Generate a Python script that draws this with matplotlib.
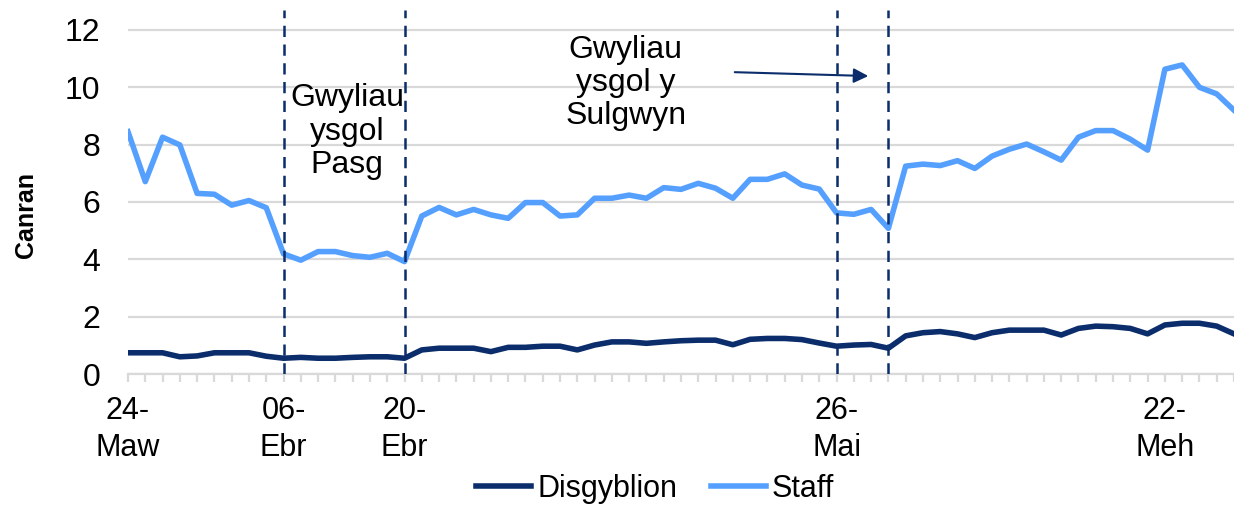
import matplotlib
matplotlib.use("Agg")
import matplotlib.pyplot as plt

plt.rcParams['font.family'] = ['Liberation Sans', 'DejaVu Sans']

# ---- data ----
staff = [8.45, 6.71, 8.26, 7.99, 6.30, 6.27, 5.89, 6.05, 5.80, 4.19,
         3.97, 4.27, 4.27, 4.13, 4.07, 4.21, 3.92, 5.51, 5.81, 5.55,
         5.74, 5.55, 5.43, 5.98, 5.98, 5.51, 5.55, 6.13, 6.13, 6.24,
         6.13, 6.50, 6.44, 6.65, 6.48, 6.13, 6.79, 6.79, 6.98, 6.59,
         6.45, 5.62, 5.57, 5.74, 5.08, 7.25, 7.32, 7.27, 7.44, 7.17,
         7.60, 7.84, 8.02, 7.75, 7.46, 8.26, 8.49, 8.49, 8.19, 7.81,
         10.63, 10.78, 10.00, 9.77, 9.20]
disgyblion = [0.74, 0.74, 0.74, 0.60, 0.63, 0.74, 0.74, 0.74, 0.62, 0.55,
              0.58, 0.55, 0.55, 0.58, 0.60, 0.60, 0.55, 0.84, 0.90, 0.90,
              0.90, 0.78, 0.93, 0.93, 0.97, 0.97, 0.84, 1.01, 1.12, 1.12,
              1.07, 1.12, 1.16, 1.18, 1.18, 1.02, 1.21, 1.24, 1.24, 1.20,
              1.08, 0.97, 1.01, 1.03, 0.90, 1.33, 1.44, 1.48, 1.40, 1.27,
              1.44, 1.53, 1.53, 1.53, 1.36, 1.59, 1.67, 1.65, 1.59, 1.40,
              1.71, 1.77, 1.77, 1.67, 1.40]
tick_idx = [0, 9, 16, 41, 60]
tick_labels = ['24-\nMaw', '06-\nEbr', '20-\nEbr', '26-\nMai', '22-\nMeh']
holiday_lines = [9, 16, 41, 44]
yticks = [0, 2, 4, 6, 8, 10, 12]

navy = '#0B2D6B'
light = '#55A0FF'
grid = '#D9D9D9'
fs = 23

fig = plt.figure(figsize=(12.34, 5.07), dpi=100)
ax = fig.add_axes([128/1234, 1-374/507, 1-128/1234, (374-10)/507])

x = list(range(len(staff)))
ax.plot(x, disgyblion, color=navy, lw=4.0, label='Disgyblion', solid_joinstyle='round', zorder=3)
ax.plot(x, staff, color=light, lw=4.0, label='Staff', solid_joinstyle='round', zorder=3)

for xv in holiday_lines:
    ax.axvline(xv, color=navy, lw=1.8, ls=(0, (4.5, 3)), zorder=4)

ax.set_ylim(0, (374-10)/28.67)
ax.set_xlim(0, (1234-128)/17.37)
ax.set_yticks(yticks)
ax.set_yticklabels([str(v) for v in yticks], fontsize=fs)
ax.tick_params(axis='y', length=0, pad=20)
ax.yaxis.grid(True, color=grid, lw=1.6)
ax.set_axisbelow(True)

ax.set_xticks(x)
labels = [''] * len(x)
for i, l in zip(tick_idx, tick_labels):
    labels[i] = l
ax.set_xticklabels(labels, fontsize=fs - 1, linespacing=1.3)
ax.tick_params(axis='x', length=6, width=1.6, color=grid, pad=10)

for s in ['top', 'right', 'left']:
    ax.spines[s].set_visible(False)
ax.spines['bottom'].set_color(grid)
ax.spines['bottom'].set_linewidth(1.6)

ax.set_ylabel('Canran', fontsize=18, fontweight='bold')
ax.yaxis.set_label_coords((38-128)/1106, (374-215)/364)

ax.text(12.67, 8.45, 'Gwyliau\nysgol\nPasg', fontsize=fs, ha='center', va='center',
        linespacing=1.15, zorder=5)
ax.text(28.8, 10.15, 'Gwyliau\nysgol y\nSulgwyn', fontsize=fs, ha='center', va='center',
        linespacing=1.15, zorder=5)
ax.annotate('', xy=(43.0, 10.39), xytext=(34.95, 10.53),
            arrowprops=dict(arrowstyle='-|>', color=navy, lw=1.5, mutation_scale=22))

fig.legend(loc='center', bbox_to_anchor=(655/1234, 1-489/507), ncol=2, frameon=False,
           fontsize=fs - 1, handlelength=1.8, handletextpad=0.2, columnspacing=1.1,
           borderpad=0.1)

fig.savefig('out.png', dpi=100)
